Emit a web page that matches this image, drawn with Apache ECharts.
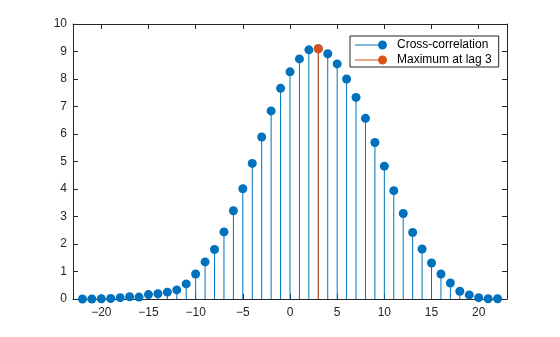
<!DOCTYPE html>
<html>
<head>
<meta charset="utf-8">
<script src="https://cdn.jsdelivr.net/npm/echarts@6/dist/echarts.min.js"></script>
<style>
  html, body { margin: 0; padding: 0; background: #fff; }
  #chart { width: 560px; height: 337px; }
</style>
</head>
<body>
<div id="chart"></div>
<script>
// Lags and cross-correlation values
const lags = [-22, -21, -20, -19, -18, -17, -16, -15, -14, -13, -12, -11, -10, -9, -8, -7, -6, -5, -4, -3, -2, -1,
              0, 1, 2, 3, 4, 5, 6, 7, 8, 9, 10, 11, 12, 13, 14, 15, 16, 17, 18, 19, 20, 21, 22];
const xcorr = [0.0, 0.0, 0.01, 0.02, 0.05, 0.08, 0.07, 0.16, 0.19, 0.25, 0.33, 0.55, 0.91, 1.35, 1.80, 2.44, 3.21, 4.01, 4.93, 5.89, 6.84, 7.66,
               8.26, 8.73, 9.06, 9.10, 8.92, 8.55, 8.00, 7.33, 6.57, 5.69, 4.83, 3.94, 3.11, 2.42, 1.82, 1.31, 0.91, 0.58, 0.28, 0.15, 0.05, 0.01, 0.01];
const maxLag = [3];
const maxValue = [9.10];
const xTicks = [-20, -15, -10, -5, 0, 5, 10, 15, 20];
const yTicks = [0, 1, 2, 3, 4, 5, 6, 7, 8, 9, 10];

const BLUE = '#0072BD';
const ORANGE = '#D95319';
const AXIS = '#262626';
const FONT = '"Liberation Sans", Helvetica, Arial, sans-serif';

// Legend glyph: short line with a filled marker near its right end
const stemIcon = 'path://M0,4 L26,4 L26,5 L0,5 Z ' +
  'M32,4.5 C32,6.985 29.985,9 27.5,9 C25.015,9 23,6.985 23,4.5 C23,2.015 25.015,0 27.5,0 C29.985,0 32,2.015 32,4.5 Z';

function stemRenderer(color) {
  return function (params, api) {
    const x = api.value(0), y = api.value(1);
    const base = api.coord([x, 0]);
    const tip = api.coord([x, y]);
    return {
      type: 'group',
      children: [
        { type: 'line', shape: { x1: base[0], y1: base[1], x2: tip[0], y2: tip[1] },
          style: { stroke: color, lineWidth: 1 } },
        { type: 'circle', shape: { cx: tip[0], cy: tip[1], r: 4.5 },
          style: { fill: color } }
      ]
    };
  };
}

function boxAxis(extra, ticks) {
  const tick = { show: true, inside: true, length: 5, lineStyle: { color: AXIS } };
  if (ticks) tick.customValues = ticks;
  return Object.assign({
    axisLine: { show: true, onZero: false, lineStyle: { color: AXIS, width: 1 } },
    axisTick: tick,
    splitLine: { show: false }
  }, extra);
}

// Tick labels use a true minus sign for negative numbers
const fmt = v => String(v).replace('-', '\u2212');

const option = {
  animation: false,
  backgroundColor: '#fff',
  grid: { left: 73, right: 53, top: 24, bottom: 38 },
  xAxis: [
    boxAxis({
      type: 'value', min: -23, max: 23, position: 'bottom',
      axisLabel: { customValues: xTicks, formatter: fmt, color: AXIS, fontSize: 12, fontFamily: FONT, margin: 8 }
    }, xTicks),
    boxAxis({
      type: 'value', min: -23, max: 23, position: 'top',
      axisLabel: { show: false }
    }, xTicks)
  ],
  yAxis: [
    boxAxis({
      type: 'value', min: 0, max: 10, interval: 1, position: 'left',
      axisLabel: { customValues: yTicks, color: AXIS, fontSize: 12, fontFamily: FONT, margin: 6 }
    }),
    boxAxis({
      type: 'value', min: 0, max: 10, interval: 1, position: 'right',
      axisLabel: { show: false }
    })
  ],
  legend: {
    orient: 'vertical',
    left: 350, top: 36,
    padding: [3, 7, 1, 5],
    itemGap: 3,
    itemWidth: 32, itemHeight: 9,
    borderColor: AXIS, borderWidth: 1,
    backgroundColor: '#fff',
    textStyle: { fontSize: 12, fontFamily: FONT, color: '#000', lineHeight: 12, padding: [0, 0, 0, 5] },
    data: [
      { name: 'Cross-correlation', icon: stemIcon, itemStyle: { color: BLUE } },
      { name: 'Maximum at lag 3', icon: stemIcon, itemStyle: { color: ORANGE } }
    ]
  },
  series: [
    {
      name: 'Cross-correlation', type: 'custom',
      xAxisIndex: 0, yAxisIndex: 0,
      itemStyle: { color: BLUE },
      renderItem: stemRenderer(BLUE),
      data: lags.map((l, i) => [l, xcorr[i]])
    },
    {
      name: 'Maximum at lag 3', type: 'custom',
      xAxisIndex: 0, yAxisIndex: 0,
      itemStyle: { color: ORANGE },
      renderItem: stemRenderer(ORANGE),
      data: maxLag.map((l, i) => [l, maxValue[i]])
    }
  ]
};

const chart = echarts.init(document.getElementById('chart'), null, { renderer: 'canvas' });
chart.setOption(option);
</script>
</body>
</html>
